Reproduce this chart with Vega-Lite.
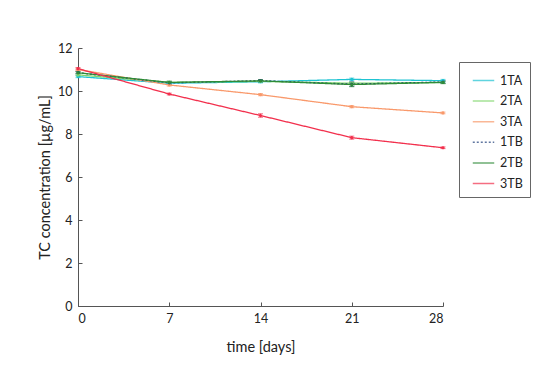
{
  "$schema": "https://vega.github.io/schema/vega-lite/v6.json",
  "width": 365,
  "height": 258,
  "autosize": {"type": "none"},
  "padding": {"left": 78, "top": 48, "right": 107, "bottom": 71},
  "background": "white",
  "config": {
    "font": "Lato",
    "view": {"stroke": null},
    "axis": {"grid": false, "domainColor": "#555", "tickColor": "#555", "labelColor": "#222", "titleColor": "#222", "labelFontSize": 12.5, "titleFontSize": 14.5, "titleFontWeight": "normal", "labelFont": "Lato", "titleFont": "Lato"}
  },
  "data": {
    "values": [
      {"day": 0, "s": "1TA", "v": 10.67, "e": 0.05},
      {"day": 7, "s": "1TA", "v": 10.36, "e": 0.05},
      {"day": 14, "s": "1TA", "v": 10.43, "e": 0.05},
      {"day": 21, "s": "1TA", "v": 10.54, "e": 0.06},
      {"day": 28, "s": "1TA", "v": 10.48, "e": 0.06},
      {"day": 0, "s": "2TA", "v": 10.75, "e": 0.05},
      {"day": 7, "s": "2TA", "v": 10.4, "e": 0.05},
      {"day": 14, "s": "2TA", "v": 10.45, "e": 0.05},
      {"day": 21, "s": "2TA", "v": 10.36, "e": 0.05},
      {"day": 28, "s": "2TA", "v": 10.4, "e": 0.05},
      {"day": 0, "s": "3TA", "v": 11.0, "e": 0.05},
      {"day": 7, "s": "3TA", "v": 10.28, "e": 0.05},
      {"day": 14, "s": "3TA", "v": 9.83, "e": 0.05},
      {"day": 21, "s": "3TA", "v": 9.27, "e": 0.05},
      {"day": 28, "s": "3TA", "v": 8.98, "e": 0.04},
      {"day": 0, "s": "1TB", "v": 10.85, "e": 0.05},
      {"day": 7, "s": "1TB", "v": 10.38, "e": 0.06},
      {"day": 14, "s": "1TB", "v": 10.48, "e": 0.05},
      {"day": 21, "s": "1TB", "v": 10.32, "e": 0.1},
      {"day": 28, "s": "1TB", "v": 10.42, "e": 0.06},
      {"day": 0, "s": "2TB", "v": 10.85, "e": 0.05},
      {"day": 7, "s": "2TB", "v": 10.4, "e": 0.06},
      {"day": 14, "s": "2TB", "v": 10.47, "e": 0.05},
      {"day": 21, "s": "2TB", "v": 10.3, "e": 0.1},
      {"day": 28, "s": "2TB", "v": 10.4, "e": 0.06},
      {"day": 0, "s": "3TB", "v": 11.04, "e": 0.05},
      {"day": 7, "s": "3TB", "v": 9.86, "e": 0.04},
      {"day": 14, "s": "3TB", "v": 8.86, "e": 0.08},
      {"day": 21, "s": "3TB", "v": 7.83, "e": 0.07},
      {"day": 28, "s": "3TB", "v": 7.36, "e": 0.04}
    ]
  },
  "encoding": {
    "x": {"field": "day", "type": "quantitative", "title": "time [days]", "scale": {"domain": [0, 28], "nice": false}, "axis": {"values": [0, 7, 14, 21, 28], "tickSize": -4, "labelPadding": 10, "titlePadding": 16}},
    "y": {"field": "v", "type": "quantitative", "title": "TC concentration [µg/mL]", "scale": {"domain": [0, 12], "nice": false}, "axis": {"values": [0, 2, 4, 6, 8, 10, 12], "tickSize": -4, "labelPadding": 10, "titlePadding": 5}},
    "color": {"field": "s", "type": "nominal", "scale": {"domain": ["1TA", "2TA", "3TA", "1TB", "2TB", "3TB"], "range": ["#1ec3d2", "#7fd66a", "#f9996b", "#1f3e7a", "#2e8b37", "#f2304d"]}, "legend": {"title": null, "orient": "none", "legendX": 381, "legendY": 14, "strokeColor": "#666", "padding": 7, "symbolOffset": 6, "labelOffset": 5, "symbolType": "stroke", "symbolSize": 460, "symbolStrokeWidth": 1.5, "labelFontSize": 12.5, "labelFont": "Lato", "labelColor": "#222", "rowPadding": 2.6}}
  },
  "layer": [
    {
      "mark": {"type": "errorbar", "ticks": {"size": 5}},
      "encoding": {
        "yError": {"field": "e"}
      }
    },
    {
      "mark": {"type": "line", "strokeWidth": 1.3, "point": {"size": 10, "filled": true}},
      "encoding": {
        "strokeDash": {"field": "s", "type": "nominal", "scale": {"domain": ["1TA", "2TA", "3TA", "1TB", "2TB", "3TB"], "range": [[1, 0], [1, 0], [1, 0], [2, 2], [1, 0], [1, 0]]}, "legend": null}
      }
    }
  ]
}
